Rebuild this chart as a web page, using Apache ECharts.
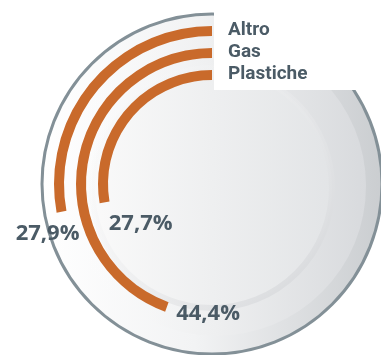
<!DOCTYPE html>
<html>
<head>
<meta charset="utf-8">
<script src="https://cdn.jsdelivr.net/npm/echarts@6/dist/echarts.min.js"></script>
<style>
  html, body { margin: 0; padding: 0; background: #fff; }
  #chart { width: 381px; height: 355px; }
</style>
</head>
<body>
<div id="chart"></div>
<script>
// inner -> outer ring
const categories = ['Plastiche', 'Gas', 'Altro']
const altro = ['-', '-', 27.9]
const gas = ['-', 44.4, '-']
const plastiche = [27.7, '-', '-']
const legendNames = ['Altro', 'Gas', 'Plastiche']

const orange = '#c96a2b'
const textColor = '#4b5b66'
const cx = 212
const cy = 184

function fmt(p) {
  return p.value.toFixed(1).replace('.', ',') + '%'
}

function makeSeries(name, data, offset) {
  return {
    name: name,
    type: 'bar',
    coordinateSystem: 'polar',
    stack: 'all',
    barWidth: 10,
    data: data,
    itemStyle: { color: orange },
    z: 5,
    label: {
      show: true,
      position: 'end',
      offset: offset,
      formatter: fmt,
      color: textColor,
      fontFamily: 'Open Sans',
      fontWeight: 'bold',
      fontSize: 22
    }
  }
}

const chart = echarts.init(document.getElementById('chart'))
chart.setOption({
  animation: false,
  polar: {
    center: [cx, cy],
    radius: [98, 164]
  },
  angleAxis: {
    max: 100,
    startAngle: 90,
    clockwise: false,
    show: false
  },
  radiusAxis: {
    type: 'category',
    data: categories,
    show: false
  },
  legend: {
    data: legendNames,
    orient: 'vertical',
    left: 218,
    top: 16,
    itemWidth: 0,
    itemHeight: 0,
    itemGap: 3,
    selectedMode: false,
    textStyle: {
      color: textColor,
      fontFamily: 'Roboto',
      fontWeight: 'bold',
      fontSize: 19
    }
  },
  graphic: [
    {
      type: 'circle',
      shape: { cx: cx, cy: cy, r: 170 },
      style: {
        fill: new echarts.graphic.LinearGradient(0, 0, 1, 0, [
          { offset: 0, color: '#ffffff' },
          { offset: 0.45, color: '#f2f3f4' },
          { offset: 1, color: '#cacdd0' }
        ]),
        stroke: '#839097',
        lineWidth: 3
      },
      z: -10
    },
    {
      type: 'circle',
      shape: { cx: cx + 4, cy: cy + 2, r: 150 },
      style: {
        fill: new echarts.graphic.LinearGradient(0, 0, 1, 0, [
          { offset: 0, color: 'rgba(255,255,255,0)' },
          { offset: 0.5, color: '#eeeff0' },
          { offset: 1, color: '#d8dadd' }
        ])
      },
      z: -9
    },
    {
      type: 'circle',
      shape: { cx: cx, cy: cy + 4, r: 120 },
      style: {
        fill: new echarts.graphic.LinearGradient(0, 0, 1, 0, [
          { offset: 0, color: '#fafafa' },
          { offset: 1, color: '#e2e4e6' }
        ]),
        stroke: new echarts.graphic.LinearGradient(0, 0, 1, 1, [
          { offset: 0, color: 'rgba(255,255,255,0)' },
          { offset: 1, color: '#d3d5d8' }
        ]),
        lineWidth: 6
      },
      z: -8
    },
    {
      type: 'rect',
      shape: { x: 214, y: 0, width: 170, height: 90 },
      style: { fill: '#ffffff' },
      z: 1
    }
  ],
  series: [
    makeSeries('Altro', altro, [-45, 27]),
    makeSeries('Gas', gas, [14, 8]),
    makeSeries('Plastiche', plastiche, [5, 26])
  ]
})
</script>
</body>
</html>
